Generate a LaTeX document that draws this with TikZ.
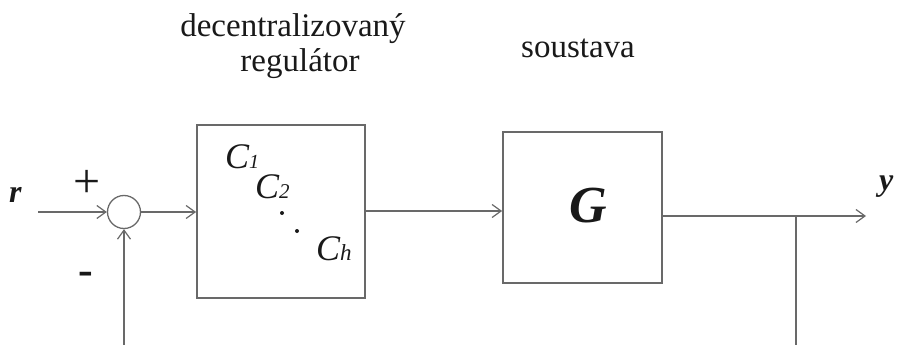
\documentclass[tikz,border=0pt]{standalone}
\usepackage{fontspec}
\setmainfont{Liberation Serif}
\usetikzlibrary{arrows.meta}
\definecolor{wire}{RGB}{105,105,105}
\definecolor{ink}{RGB}{25,25,25}
\newcommand{\fsz}[1]{\fontsize{#1}{#1}\selectfont}
\begin{document}
\begin{tikzpicture}[x=1pt,y=-1pt,
  wireline/.style={draw=wire,line width=1.3pt},
  arrowline/.style={wireline,-{Straight Barb[length=9pt,width=13pt,line width=1.2pt]}},
  blockbox/.style={draw=wire,line width=1.8pt,rectangle,inner sep=0pt},
  sumnode/.style={draw=wire,line width=1.3pt,circle,inner sep=0pt,minimum size=33pt},
  caption/.style={text=ink,inner sep=0pt,font=\fsz{33}},
  sym/.style={text=ink,inner sep=0pt}]
\useasboundingbox (0,0) rectangle (900,345);
\clip (0,0) rectangle (900,345);

% blocks
\node[sumnode] (sum) at (124,212) {};
\node[blockbox,minimum width=168pt,minimum height=173pt] (ctrl) at (281,211.5) {};
\node[blockbox,minimum width=159pt,minimum height=151pt] (plant) at (582.5,207.5) {};

% captions
\node[caption,anchor=base] (capA) at (293,37) {decentralizovaný};
\node[caption,anchor=base] (capB) at (300,71) {regulátor};
\node[caption,anchor=base] (capC) at (578,58) {soustava};

% controller contents
\node[sym,anchor=base west] (c1) at (225,168) {\fsz{36}\itshape C\fsz{20}1};
\node[sym,anchor=base west] (c2) at (255,198) {\fsz{36}\itshape C\fsz{21}2};
\node[sym,anchor=base west] (ch) at (316,260) {\fsz{36}\itshape C\fsz{23}h};
\fill[ink] (282,213) circle (2pt);
\fill[ink] (297,231) circle (2pt);

% plant label
\node[sym] (g) at (588,206) {\fsz{52}\bfseries\itshape G};

% signals and signs
\node[sym,anchor=base west] (r) at (9,202) {\fsz{32}\bfseries\itshape r};
\node[sym,anchor=base west] (y) at (879,190) {\fsz{32}\bfseries\itshape y};
\node[sym] (plus) at (87.5,184) {\fsz{48}+};
\node[sym] (minus) at (86,278) {\fsz{44}\bfseries -};

% connection points
\coordinate (rin) at (38,212);
\coordinate (yout) at (866,216);
\coordinate (branch) at (796,216);
\coordinate (fbR) at (796,350);
\coordinate (fbL) at (124,350);

% connectors
\draw[arrowline] (rin) -- (sum.west);
\draw[arrowline] (sum.east) -- (sum.east -| ctrl.west);
\draw[arrowline] (ctrl.east |- 0,211) -- (plant.west |- 0,211);
\draw[arrowline] (plant.east |- yout) -- (yout);
\draw[wireline] (branch) -- (fbR);
\draw[arrowline] (fbL) -- (sum.south);
\end{tikzpicture}
\end{document}
